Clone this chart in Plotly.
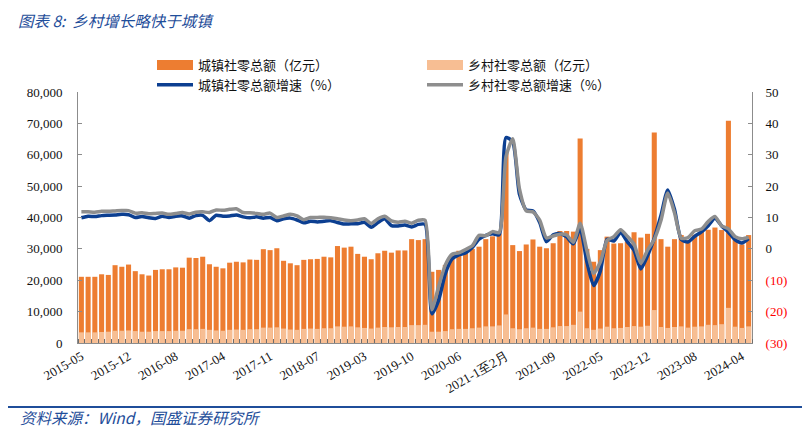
import plotly.graph_objects as go

months = [
    "2015-05", "2015-06", "2015-07", "2015-08", "2015-09", "2015-10", "2015-11", "2015-12",
    "2016-02", "2016-03", "2016-04", "2016-05", "2016-06", "2016-07", "2016-08", "2016-09", "2016-10", "2016-11", "2016-12",
    "2017-02", "2017-03", "2017-04", "2017-05", "2017-06", "2017-07", "2017-08", "2017-09", "2017-10", "2017-11", "2017-12",
    "2018-02", "2018-03", "2018-04", "2018-05", "2018-06", "2018-07", "2018-08", "2018-09", "2018-10", "2018-11", "2018-12",
    "2019-02", "2019-03", "2019-04", "2019-05", "2019-06", "2019-07", "2019-08", "2019-09", "2019-10", "2019-11", "2019-12",
    "2020-02", "2020-03", "2020-04", "2020-05", "2020-06", "2020-07", "2020-08", "2020-09", "2020-10", "2020-11", "2020-12",
    "2021-1至2月", "2021-03", "2021-04", "2021-05", "2021-06", "2021-07", "2021-08", "2021-09", "2021-10", "2021-11", "2021-12",
    "2022-02", "2022-03", "2022-04", "2022-05", "2022-06", "2022-07", "2022-08", "2022-09", "2022-10", "2022-11", "2022-12",
    "2023-02", "2023-03", "2023-04", "2023-05", "2023-06", "2023-07", "2023-08", "2023-09", "2023-10", "2023-11", "2023-12",
    "2024-02", "2024-03", "2024-04", "2024-05",
]

# 城镇社零总额（亿元）
urban_sales = [
    21100, 21100, 21100, 21900, 21700, 24800, 24300, 25000,
    22900, 21900, 21500, 23300, 23500, 23500, 24100, 24000, 27200, 27100, 27500,
    25100, 24300, 23800, 25600, 25900, 25700, 26600, 26500, 29900, 29600, 30200,
    26200, 25400, 24800, 26500, 26700, 26800, 27500, 27300, 30900, 30400, 30700,
    28400, 27500, 26700, 28600, 29400, 28800, 29500, 29500, 33100, 32800, 33100,
    22700, 23300, 24900, 28000, 29400, 29100, 30000, 30700, 33100, 34000, 34900,
    61000, 31200, 29300, 31400, 33000, 30700, 30200, 31800, 35700, 35700, 35500,
    65200, 30000, 25900, 29600, 33900, 31700, 31800, 32300, 35300, 33600, 34800,
    67100, 33100, 30700, 33100, 34400, 32800, 34500, 35500, 36100, 36800, 36000,
    70800, 33400, 31400, 34400,
]

# 乡村社零总额（亿元）
rural_sales = [
    3400, 3400, 3400, 3500, 3600, 3900, 3900, 4000,
    3800, 3600, 3600, 3800, 3800, 3800, 3900, 3900, 4400, 4400, 4500,
    4200, 4000, 3900, 4200, 4300, 4200, 4400, 4400, 4900, 4900, 5000,
    4600, 4300, 4200, 4500, 4600, 4500, 4700, 4700, 5300, 5200, 5300,
    5000, 4800, 4600, 4900, 5100, 5000, 5100, 5100, 5700, 5700, 5800,
    3600, 3600, 3800, 4400, 4500, 4500, 4700, 4900, 5300, 5300, 5600,
    9100, 4700, 4400, 4700, 4900, 4500, 4500, 5000, 5400, 5400, 5800,
    10000, 4700, 4200, 4600, 5200, 4700, 4800, 5100, 5400, 5200, 5500,
    10500, 5100, 4800, 5100, 5300, 4900, 5200, 5300, 5800, 5700, 6000,
    11200, 5200, 4800, 5300,
]

# 城镇社零总额增速（%）
urban_growth = [
    9.9, 10.4, 10.3, 10.6, 10.7, 10.8, 11.0, 10.9,
    10.0, 10.3, 9.9, 9.7, 10.4, 10.0, 10.4, 10.5, 9.8, 10.6, 10.7,
    9.0, 10.7, 10.4, 10.5, 10.8, 10.2, 9.9, 10.2, 9.8, 10.0, 9.0,
    9.6, 9.8, 9.2, 8.3, 8.8, 8.6, 8.8, 9.0, 8.4, 7.9, 8.0,
    8.0, 8.5, 6.9, 8.4, 9.6, 7.4, 7.3, 7.6, 7.0, 7.8, 7.8,
    -20.7, -16.4, -7.9, -3.2, -1.9, -1.3, 0.4, 3.1, 4.3, 4.8, 4.5,
    35.5, 34.1, 17.4, 12.4, 12.1, 8.4, 2.3, 4.5, 4.9, 3.8, 1.6,
    6.5, -4.1, -11.7, -7.1, 3.1, 2.5, 5.2, 2.3, -0.5, -6.4, -2.2,
    3.4, 10.7, 18.8, 12.6, 3.0, 2.2, 4.0, 5.4, 7.4, 9.8, 7.3,
    5.3, 2.9, 1.9, 3.3,
]

# 乡村社零总额增速（%）
rural_growth = [
    11.8, 11.8, 11.7, 12.0, 12.0, 12.1, 12.2, 12.2,
    11.4, 11.5, 11.2, 11.3, 11.4, 11.0, 11.3, 11.6, 11.1, 11.7, 11.8,
    11.6, 12.4, 12.3, 12.6, 12.8, 11.6, 11.5, 11.3, 11.0, 11.4, 10.0,
    10.5, 11.0, 10.5, 9.3, 10.0, 10.0, 10.1, 9.9, 9.6, 9.2, 9.0,
    9.2, 9.6, 8.1, 9.6, 10.4, 8.9, 8.5, 8.8, 8.2, 9.1, 9.1,
    -19.4, -12.0, -5.1, -1.7, -1.3, -0.2, 1.0, 4.3, 4.2, 5.5, 5.2,
    29.4, 35.1, 19.1, 12.1, 11.8, 9.2, 3.5, 4.1, 4.7, 4.4, 2.1,
    8.2, -0.5, -7.8, -4.2, 2.7, 3.9, 6.1, 4.0, 1.5, -4.6, -0.4,
    3.0, 9.1, 17.8, 11.5, 3.4, 3.6, 5.8, 6.3, 8.7, 10.3, 7.3,
    6.4, 3.9, 3.2, 3.7,
]

label_step = 7
left_ticks = [0, 10000, 20000, 30000, 40000, 50000, 60000, 70000, 80000]
right_ticks = [-30, -20, -10, 0, 10, 20, 30, 40, 50]

x_idx = list(range(len(months)))
tick_idx = x_idx[::label_step]
tick_txt = [months[i] for i in tick_idx]
right_txt = [
    f"<span style='color:#FF0000'>({abs(v)})</span>" if v < 0 else str(v)
    for v in right_ticks
]

URBAN_BAR = "#ED7D31"
RURAL_BAR = "#F7BE93"
URBAN_LINE = "#0C3F91"
RURAL_LINE = "#8E8E8E"
BLUE_TXT = "#1F4E9A"
TICK_FONT = dict(family="Liberation Serif, serif", size=13, color="#111111")
CJK = "Noto Sans CJK SC"
LEG_FONT = dict(family=CJK, size=13, color="#111111")

# the page body adds an 8px offset; the figure is laid out to compensate
OFF = 8
W, H = 810, 441
PL, PT, PW, PH = 78 - OFF, 92 - OFF, 674, 251

fig = go.Figure()
fig.add_trace(go.Bar(x=x_idx, y=urban_sales, name="城镇社零总额（亿元）",
                     marker=dict(color=URBAN_BAR, line=dict(width=0)),
                     showlegend=False, yaxis="y"))
fig.add_trace(go.Bar(x=x_idx, y=rural_sales, name="乡村社零总额（亿元）",
                     marker=dict(color=RURAL_BAR, line=dict(width=0)),
                     showlegend=False, yaxis="y"))
fig.add_trace(go.Scatter(x=x_idx, y=urban_growth, name="城镇社零总额增速（%）",
                         mode="lines", line=dict(color=URBAN_LINE, width=3.5, shape="spline", smoothing=0.6),
                         showlegend=False, yaxis="y2"))
fig.add_trace(go.Scatter(x=x_idx, y=rural_growth, name="乡村社零总额增速（%）",
                         mode="lines", line=dict(color=RURAL_LINE, width=3.5, shape="spline", smoothing=0.6),
                         showlegend=False, yaxis="y2"))

# legend entries (wide swatches for the bar series)
fig.add_trace(go.Scatter(x=[None], y=[None], mode="lines", name="城镇社零总额（亿元）",
                         line=dict(color=URBAN_BAR, width=12), legend="legend", legendrank=1))
fig.add_trace(go.Scatter(x=[None], y=[None], mode="lines", name="城镇社零总额增速（%）",
                         line=dict(color=URBAN_LINE, width=3.5), legend="legend", legendrank=2))
fig.add_trace(go.Scatter(x=[None], y=[None], mode="lines", name="乡村社零总额（亿元）",
                         line=dict(color=RURAL_BAR, width=12), legend="legend2", legendrank=1))
fig.add_trace(go.Scatter(x=[None], y=[None], mode="lines", name="乡村社零总额增速（%）",
                         line=dict(color=RURAL_LINE, width=3.5), legend="legend2", legendrank=2))

fig.update_layout(
    width=W, height=H,
    margin=dict(l=PL, r=W - PL - PW, t=PT, b=H - PT - PH, autoexpand=False),
    paper_bgcolor="white", plot_bgcolor="white",
    barmode="overlay", bargap=0.25,
    font=dict(family=CJK, size=13, color="#111111"),
    xaxis=dict(
        range=[-0.5, len(months) - 0.5], automargin=False,
        tickmode="array", tickvals=tick_idx, ticktext=tick_txt,
        tickangle=-30, ticks="", tickfont=TICK_FONT,
        showline=True, linecolor="#8C8C8C", linewidth=1,
        showgrid=False, zeroline=False,
        minor=dict(tickmode="linear", tick0=-0.5, dtick=1, ticks="inside",
                   ticklen=4, tickcolor="#6E6E6E", showgrid=False),
    ),
    yaxis=dict(
        range=[0, 80000], tickmode="array", tickvals=left_ticks, automargin=False,
        tickformat=",", ticks="inside", ticklen=4, tickcolor="#8C8C8C",
        showline=True, linecolor="#8C8C8C", linewidth=1,
        showgrid=False, zeroline=False, tickfont=TICK_FONT,
        ticklabelstandoff=12,
    ),
    yaxis2=dict(
        range=[-30, 50], overlaying="y", side="right", automargin=False,
        tickmode="array", tickvals=right_ticks, ticktext=right_txt,
        ticks="inside", ticklen=4, tickcolor="#8C8C8C",
        showline=True, linecolor="#8C8C8C", linewidth=1,
        showgrid=False, zeroline=False, tickfont=TICK_FONT,
        ticklabelstandoff=10,
    ),
    legend=dict(x=(152 - OFF) / W, y=1 - (50 - OFF) / H, xref="container", yref="container",
                xanchor="left", yanchor="top", orientation="v",
                bgcolor="rgba(0,0,0,0)", itemwidth=36, font=LEG_FONT, tracegroupgap=0),
    legend2=dict(x=(422 - OFF) / W, y=1 - (50 - OFF) / H, xref="container", yref="container",
                 xanchor="left", yanchor="top", orientation="v",
                 bgcolor="rgba(0,0,0,0)", itemwidth=36, font=LEG_FONT, tracegroupgap=0),
    showlegend=True,
)

fig.add_annotation(
    text="<i>图表 8:  乡村增长略快于城镇</i>", xref="paper", yref="paper",
    x=(17 - 78) / PW, y=1 + (92 - 20) / PH, xanchor="left", yanchor="middle", showarrow=False,
    borderpad=0, font=dict(family=CJK, size=15.5, color=BLUE_TXT),
)
fig.add_annotation(
    text="<i>资料来源：Wind，国盛证券研究所</i>", xref="paper", yref="paper",
    x=(18 - 78) / PW, y=-(417 - 343) / PH, xanchor="left", yanchor="middle", showarrow=False,
    font=dict(family=CJK, size=15.5, color=BLUE_TXT),
)
fig.add_shape(type="line", xref="paper", yref="paper",
              x0=(5 - 78) / PW, x1=(805 - 78) / PW,
              y0=-(407 - 343) / PH, y1=-(407 - 343) / PH,
              line=dict(color=BLUE_TXT, width=2))

fig.write_html("out.html")
